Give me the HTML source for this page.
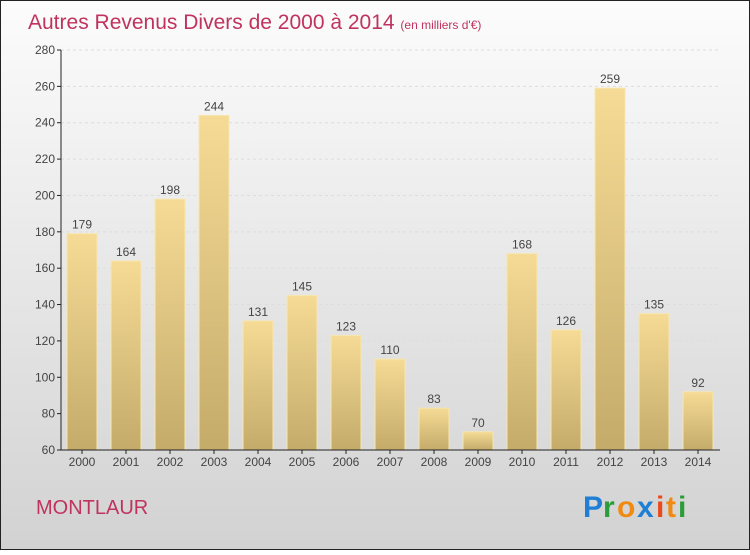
<!DOCTYPE html>
<html><head><meta charset="utf-8"><style>
body{margin:0}
svg text{font-family:"Liberation Sans",sans-serif}
</style></head><body>
<svg width="750" height="550" xmlns="http://www.w3.org/2000/svg">
<defs>
<linearGradient id="bg" x1="0" y1="0" x2="0" y2="1"><stop offset="0" stop-color="#fcfcfc"/><stop offset="1" stop-color="#d2d2d2"/></linearGradient>
<linearGradient id="bar" x1="0" y1="0" x2="0" y2="1"><stop offset="0" stop-color="#f5db95"/><stop offset="1" stop-color="#c4ab6a"/></linearGradient>
</defs>
<rect x="0.5" y="0.5" width="749" height="549" fill="url(#bg)" stroke="#222"/>
<text x="28" y="29" font-size="21" fill="#c0335f">Autres Revenus Divers de 2000 à 2014 <tspan font-size="12">(en milliers d'€)</tspan></text>
<g id="grid"></g><g id="bars"></g><g id="axes"></g>
<text x="36" y="514" font-size="20" fill="#c0335f">MONTLAUR</text>
<g font-size="30" font-weight="bold" font-family="Liberation Sans">
<text x="583" y="517" fill="#1f7fd4">P</text><text x="603" y="517" fill="#2a9d3a">r</text><text x="617" y="517" fill="#f08a12">o</text><text x="637" y="517" fill="#1f7fd4">x</text><text x="656" y="517" fill="#e94a1a">i</text><text x="666" y="517" fill="#f08a12">t</text><text x="678" y="517" fill="#2a9d3a">i</text>
</g>
</svg>
<script>
const categories=["2000","2001","2002","2003","2004","2005","2006","2007","2008","2009","2010","2011","2012","2013","2014"];
const values=[179,164,198,244,131,145,123,110,83,70,168,126,259,135,92];
const ticks=[60,80,100,120,140,160,180,200,220,240,260,280];
const NS="http://www.w3.org/2000/svg";
const y0=450,y1=50,vmin=60,vmax=280,xL=61,step=44;
const y=v=>y0-(v-vmin)/(vmax-vmin)*(y0-y1);
const xc=i=>82+i*step;
function mk(t,a,p){const e=document.createElementNS(NS,t);for(const k in a)e.setAttribute(k,a[k]);p.appendChild(e);return e;}
const grid=document.getElementById('grid'),bars=document.getElementById('bars'),axes=document.getElementById('axes');
ticks.forEach(t=>{
 const g=mk('line',{x1:xL,x2:720,y1:y(t),y2:y(t),stroke:'#ddd','stroke-dasharray':'3,3'},grid);
 
 
 const tk=mk('line',{x1:xL-4,x2:xL,y1:y(t),y2:y(t),stroke:'#222'},axes);
 
 
 const l=mk('text',{x:xL-6,y:y(t)+4,'font-size':12,fill:'#444','text-anchor':'end'},axes);
 l.textContent=t;
 
 
});
values.forEach((v,i)=>{
 const r=mk('rect',{x:xc(i)-15,y:y(v),width:30,height:y0-y(v),fill:'url(#bar)',stroke:'#f7e6b0','stroke-width':1},bars);
 
 
 const t=mk('text',{x:xc(i),y:y(v)-5,'font-size':12,fill:'#444','text-anchor':'middle'},bars);
 t.textContent=v;
 
 
 const c=mk('text',{x:xc(i),y:466,'font-size':12,fill:'#444','text-anchor':'middle'},axes);
 c.textContent=categories[i];
 
 
 const tk=mk('line',{x1:xc(i),x2:xc(i),y1:y0,y2:y0+4,stroke:'#222'},axes);
 
 
});
const ya=mk('line',{x1:xL,x2:xL,y1:y1,y2:y0,stroke:'#222'},axes);


const xa=mk('line',{x1:xL,x2:720,y1:y0,y2:y0,stroke:'#222'},axes);


</script>
</body></html>
